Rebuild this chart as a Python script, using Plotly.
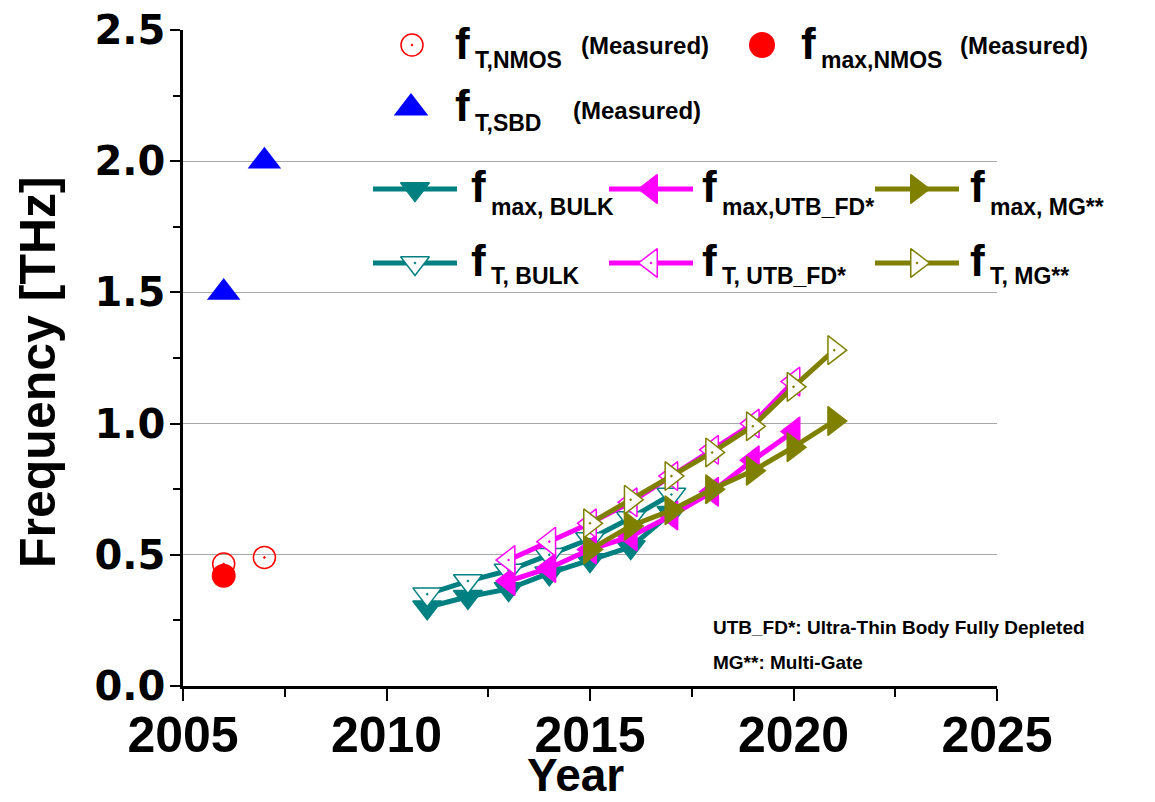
import plotly.graph_objects as go

# ---------------- data ----------------
years_nmos_ft = [2006, 2007]
ft_nmos = [0.465, 0.49]
years_nmos_fmax = [2006]
fmax_nmos = [0.42]
years_sbd = [2006, 2007]
ft_sbd = [1.5, 2.0]

years_bulk = [2011, 2012, 2013, 2014, 2015, 2016, 2017]
fmax_bulk = [0.30, 0.34, 0.37, 0.43, 0.48, 0.53, 0.66]
ft_bulk = [0.35, 0.40, 0.44, 0.50, 0.56, 0.64, 0.73]

years_utb = [2013, 2014, 2015, 2016, 2017, 2018, 2019, 2020]
fmax_utb = [0.40, 0.45, 0.52, 0.57, 0.65, 0.74, 0.86, 0.97]
ft_utb = [0.48, 0.55, 0.62, 0.70, 0.80, 0.90, 1.00, 1.16]

years_mg = [2015, 2016, 2017, 2018, 2019, 2020, 2021]
fmax_mg = [0.52, 0.61, 0.67, 0.75, 0.82, 0.91, 1.01]
ft_mg = [0.62, 0.71, 0.80, 0.89, 0.99, 1.14, 1.28]

x_ticks = [2005, 2010, 2015, 2020, 2025]
y_ticks = [0.0, 0.5, 1.0, 1.5, 2.0, 2.5]
grid_vals = [0.5, 1.0, 1.5, 2.0]

TEAL = "#008080"
MAGENTA = "#FF00FF"
OLIVE = "#808000"
RED = "#FF0000"
BLUE = "#0000FF"

W, H = 1155, 802
L, R, T, B = 183, 997, 30, 686  # plot area in pixels

SANS = "Liberation Sans, Arial, sans-serif"
WIDE = "DejaVu Sans, Arial Black, sans-serif"

fig = go.Figure()

# ---------------- model series ----------------
series = [
    (years_bulk, fmax_bulk, TEAL, "triangle-down", TEAL),
    (years_bulk, ft_bulk, TEAL, "triangle-down-dot", "white"),
    (years_utb, fmax_utb, MAGENTA, "triangle-left", MAGENTA),
    (years_utb, ft_utb, MAGENTA, "triangle-left-dot", "white"),
    (years_mg, fmax_mg, OLIVE, "triangle-right", OLIVE),
    (years_mg, ft_mg, OLIVE, "triangle-right-dot", "white"),
]
for xs, ys, col, sym, fill in series:
    fig.add_trace(go.Scatter(
        x=xs, y=ys, mode="lines+markers", showlegend=False,
        line=dict(color=col, width=5),
        marker=dict(symbol=sym, size=25, color=fill, line=dict(color=col, width=1.5)),
        cliponaxis=False,
    ))

# ---------------- measured ----------------
fig.add_trace(go.Scatter(
    x=years_nmos_ft, y=ft_nmos, mode="markers", showlegend=False,
    marker=dict(symbol="circle-open-dot", size=22, color=RED, line=dict(color=RED, width=1.5)),
    cliponaxis=False))
fig.add_trace(go.Scatter(
    x=years_nmos_fmax, y=fmax_nmos, mode="markers", showlegend=False,
    marker=dict(symbol="circle", size=24, color=RED, line=dict(width=0)),
    cliponaxis=False))
fig.add_trace(go.Scatter(
    x=years_sbd, y=ft_sbd, mode="markers", showlegend=False,
    marker=dict(symbol="triangle-up", size=29, color=BLUE, line=dict(width=0)),
    cliponaxis=False))

# ---------------- legend keys (pixel overlay axis) ----------------
def key(xc, yc, sym, col, fill, size, line=True, lw=1.5):
    if line:
        fig.add_trace(go.Scatter(
            x=[xc - 42, xc + 42], y=[yc, yc], mode="lines", xaxis="x2", yaxis="y2",
            line=dict(color=col, width=5), showlegend=False, hoverinfo="skip"))
    fig.add_trace(go.Scatter(
        x=[xc], y=[yc], mode="markers", xaxis="x2", yaxis="y2", showlegend=False,
        hoverinfo="skip",
        marker=dict(symbol=sym, size=size, color=fill, line=dict(color=col, width=lw))))

key(412, 45, "circle-open-dot", RED, RED, 22, line=False)
key(762, 45, "circle", RED, RED, 26, line=False, lw=0)
key(411, 108, "triangle-up", BLUE, BLUE, 30, line=False, lw=0)

key(415, 189, "triangle-down", TEAL, TEAL, 25)
key(415, 263, "triangle-down-dot", TEAL, "white", 25)
key(651, 189, "triangle-left", MAGENTA, MAGENTA, 25)
key(651, 263, "triangle-left-dot", MAGENTA, "white", 25)
key(917, 189, "triangle-right", OLIVE, OLIVE, 25)
key(917, 263, "triangle-right-dot", OLIVE, "white", 25)

# ---------------- annotations ----------------
ann = []

def txt(x, y, text, size, family=SANS, xanchor="left", yanchor="middle", angle=0, pad=1):
    ann.append(dict(x=x / W, y=1 - y / H, xref="paper", yref="paper", text=text,
                    showarrow=False, xanchor=xanchor, yanchor=yanchor, textangle=angle,
                    borderpad=pad,
                    font=dict(size=size, family=family, color="black")))

def entry(xf, yf, sub, ysub, meas=False, xm=None, ym=None):
    txt(xf, yf, "<b>f</b>", 44)
    txt(xf + 20, ysub, "<b>" + sub + "</b>", 23)
    if meas:
        txt(xm, ym, "<b>(Measured)</b>", 24)

entry(453, 43, "T,NMOS", 60, True, 579, 46)
entry(799, 43, "max,NMOS", 60, True, 958, 46)
entry(453, 106, "T,SBD", 123, True, 571, 110)

entry(469, 186, "max, BULK", 207)
entry(469, 260, "T, BULK", 276)
entry(700, 186, "max,UTB_FD*", 207)
entry(700, 260, "T, UTB_FD*", 276)
entry(968, 186, "max, MG**", 207)
entry(968, 260, "T, MG**", 276)

txt(711, 627, "<b>UTB_FD*: Ultra-Thin Body Fully Depleted</b>", 19)
txt(711, 662, "<b>MG**: Multi-Gate</b>", 19)

txt(575, 802, "<b>Year</b>", 46, xanchor="center", yanchor="bottom", pad=0)
txt(38, 372, "<b>Frequency [THz]</b>", 50, xanchor="center", angle=-90)

fig.update_layout(
    width=W, height=H,
    margin=dict(l=0, r=0, t=0, b=0),
    paper_bgcolor="white", plot_bgcolor="rgba(0,0,0,0)",
    showlegend=False,
    annotations=ann,
    xaxis=dict(
        domain=[L / W, R / W], range=[2005, 2025], tickvals=x_ticks,
        ticktext=[str(v) for v in x_ticks],
        showline=True, linecolor="black", linewidth=2.5, mirror=False,
        ticks="outside", ticklen=12, tickwidth=2, tickcolor="black",
        minor=dict(dtick=2.5, tick0=2005, ticks="outside", ticklen=8, tickwidth=2, tickcolor="black"),
        showgrid=False, zeroline=False, automargin=False,
        tickfont=dict(family=SANS, size=50, color="black", weight="bold"),
        ticklabelstandoff=-9,
    ),
    yaxis=dict(
        domain=[1 - B / H, 1 - T / H], range=[0, 2.5], tickvals=y_ticks,
        ticktext=["%.1f" % v for v in y_ticks],
        showline=True, linecolor="black", linewidth=2.5, mirror=False,
        ticks="outside", ticklen=10, tickwidth=2, tickcolor="black",
        minor=dict(dtick=0.25, tick0=0, ticks="outside", ticklen=7, tickwidth=2, tickcolor="black"),
        showgrid=False, zeroline=False, automargin=False,
        tickfont=dict(family=WIDE, size=40, color="black", weight="bold"),
        ticklabelstandoff=-3,
    ),
    yaxis3=dict(
        overlaying="y", matches="y", tickvals=grid_vals, showticklabels=False,
        ticks="", showgrid=True, gridcolor="#A8A8A8", gridwidth=1.2,
        showline=False, zeroline=False, automargin=False,
    ),
    xaxis2=dict(domain=[0, 1], range=[0, W], visible=False, anchor="y2"),
    yaxis2=dict(domain=[0, 1], range=[H, 0], visible=False, anchor="x2"),
)

# invisible trace to activate the grid axis
fig.add_trace(go.Scatter(x=[2005], y=[0], yaxis="y3", mode="markers",
                         marker=dict(opacity=0), showlegend=False, hoverinfo="skip"))

fig.write_html("out.html", config={"displayModeBar": False},
               post_script="document.body.style.margin='0';")
